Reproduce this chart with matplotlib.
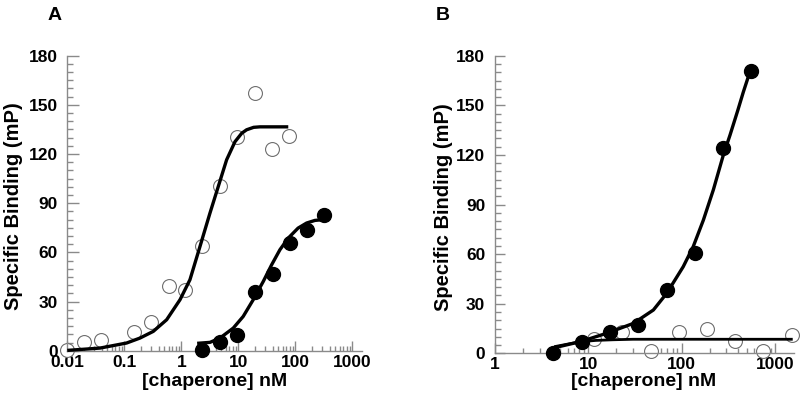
import matplotlib
matplotlib.use('Agg')
from matplotlib import pyplot as plt
from matplotlib import ticker

plt.rcParams['font.family'] = ['Liberation Sans', 'DejaVu Sans']
plt.rcParams['font.weight'] = 'bold'

# Panel A - open circles (data) and their fit
a_open_x = [0.01, 0.02, 0.039, 0.15, 0.29, 0.6, 1.17, 2.3, 4.7, 9.4, 19.3, 39.6, 77.7]
a_open_y = [0.5, 5.3, 6.3, 11.2, 17.3, 39.2, 36.8, 64.0, 100.3, 130.6, 157.2, 123.0, 131.2]
a_open_fit_x = [0.01, 0.0375, 0.11, 0.188, 0.323, 0.554, 0.95, 1.42, 2.13, 3.19, 4.46,
                6.25, 8.75, 11.5, 14.0, 18.6, 24.0, 75.4]
a_open_fit_y = [0.2, 1.6, 4.7, 7.7, 11.8, 18.9, 31.1, 43.3, 63.6, 84.0, 100.2,
                116.5, 127.5, 132.7, 134.8, 136.3, 136.6, 136.6]

# Panel A - filled circles (data) and their fit
a_fill_x = [2.3, 4.8, 9.5, 19.9, 40.0, 80.0, 158.0, 320.0]
a_fill_y = [0.2, 5.3, 9.8, 35.8, 47.0, 65.7, 73.8, 83.0]
a_fill_fit_x = [1.9, 3.19, 4.77, 8.17, 12.2, 18.3, 27.5, 38.5, 53.8, 75.3, 112.0, 158.0, 221.0, 290.0]
a_fill_fit_y = [4.5, 5.1, 7.7, 13.8, 20.9, 31.1, 42.3, 52.4, 61.6, 68.7, 74.8, 77.9, 79.5, 79.9]

# Panel B - filled circles (data) and their fit
b_fill_x = [4.2, 8.5, 17.1, 34.4, 69.0, 138.0, 280.0, 550.0]
b_fill_y = [0.0, 7.0, 13.1, 17.1, 38.5, 60.5, 124.0, 170.6]
b_fill_fit_x = [4.05, 8.15, 15.7, 30.4, 49.8, 69.2, 104.0, 133.0, 171.0, 219.0, 280.0,
                330.0, 400.0, 458.0, 540.0, 560.0]
b_fill_fit_y = [3.0, 7.0, 12.1, 18.1, 26.2, 36.3, 52.4, 64.5, 80.6, 99.0, 120.0,
                132.0, 147.0, 158.0, 170.4, 172.5]

# Panel B - open circles (data) and their fit
b_open_x = [11.6, 22.8, 46.6, 94.5, 187.0, 375.0, 752.0, 1515.0]
b_open_y = [8.5, 13.1, 1.4, 12.6, 14.5, 7.5, 1.5, 11.3]
b_open_fit_x = [4.3, 8.15, 12.0, 18.5, 30.0, 100.0, 1000.0, 1550.0]
b_open_fit_y = [4.0, 7.0, 7.8, 8.2, 8.5, 8.5, 8.5, 8.5]

y_ticks = [0, 30, 60, 90, 120, 150, 180]
a_xticks = [0.01, 0.1, 1, 10, 100, 1000]
b_xticks = [1, 10, 100, 1000]

grey = '#8a8a8a'


def style_axes(ax, xlim, xticks, ytick_len):
    ax.set_xscale('log')
    ax.set_xlim(*xlim)
    ax.set_ylim(0, 180)
    ax.set_xticks(xticks)
    ax.xaxis.set_major_formatter(ticker.FuncFormatter(lambda v, _: '%g' % v))
    ax.xaxis.set_minor_locator(ticker.LogLocator(base=10, subs=range(2, 10), numticks=20))
    ax.xaxis.set_minor_formatter(ticker.NullFormatter())
    ax.set_yticks(y_ticks)
    ax.yaxis.set_minor_locator(ticker.MultipleLocator(5))
    for s in ['top', 'right']:
        ax.spines[s].set_visible(False)
    for s in ['left', 'bottom']:
        ax.spines[s].set_color(grey)
        ax.spines[s].set_linewidth(1.0)
    ax.tick_params(which='both', direction='in', color=grey, width=1.0,
                   labelsize=12.5, labelcolor='black')
    ax.tick_params(axis='y', which='major', length=ytick_len, pad=7)
    ax.tick_params(axis='y', which='minor', length=4)
    ax.tick_params(axis='x', which='major', length=7, pad=3)
    ax.tick_params(axis='x', which='minor', length=3.5)
    for lab in ax.get_xticklabels() + ax.get_yticklabels():
        lab.set_fontweight('bold')
    ax.set_xlabel('[chaperone] nM', fontsize=14, fontweight='bold')
    ax.set_ylabel('Specific Binding (mP)', fontsize=14.5, fontweight='bold')


fig = plt.figure(figsize=(8.0, 4.07), dpi=100)

axA = fig.add_axes([0.0841, 0.1383, 0.36875, 0.7248])
style_axes(axA, (0.01, 1500), a_xticks, 8.5)
axA.plot(a_open_x, a_open_y, 'o', ms=10, mfc='white', mec='#6e6e6e', mew=0.8,
         clip_on=False, zorder=2)
axA.plot(a_open_fit_x, a_open_fit_y, '-', color='black', lw=2.4,
         solid_capstyle='butt', clip_on=False, zorder=3)
axA.plot(a_fill_fit_x, a_fill_fit_y, '-', color='black', lw=2.4,
         solid_capstyle='butt', clip_on=False, zorder=3)
axA.plot(a_fill_x, a_fill_y, 'o', ms=10, color='black', clip_on=False, zorder=4)
axA.xaxis.set_label_coords(0.50, -0.075)
axA.yaxis.set_label_coords(-0.150, 0.49)
fig.text(0.0688, 0.963, 'A', fontsize=14, fontweight='bold', ha='center', va='center')

axB = fig.add_axes([0.61875, 0.1319, 0.37375, 0.7312])
style_axes(axB, (1, 1600), b_xticks, 7.2)
axB.plot(b_open_x, b_open_y, 'o', ms=10, mfc='white', mec='#6e6e6e', mew=0.8,
         clip_on=False, zorder=2)
axB.plot(b_open_fit_x, b_open_fit_y, '-', color='black', lw=2.0,
         solid_capstyle='butt', clip_on=False, zorder=3)
axB.plot(b_fill_fit_x, b_fill_fit_y, '-', color='black', lw=2.4,
         solid_capstyle='butt', clip_on=False, zorder=3)
axB.plot(b_fill_x, b_fill_y, 'o', ms=10, color='black', clip_on=False, zorder=4)
axB.xaxis.set_label_coords(0.498, -0.066)
axB.yaxis.set_label_coords(-0.14, 0.49)
fig.text(0.5538, 0.963, 'B', fontsize=14, fontweight='bold', ha='center', va='center')

fig.savefig('out.png', dpi=100, facecolor='white')
